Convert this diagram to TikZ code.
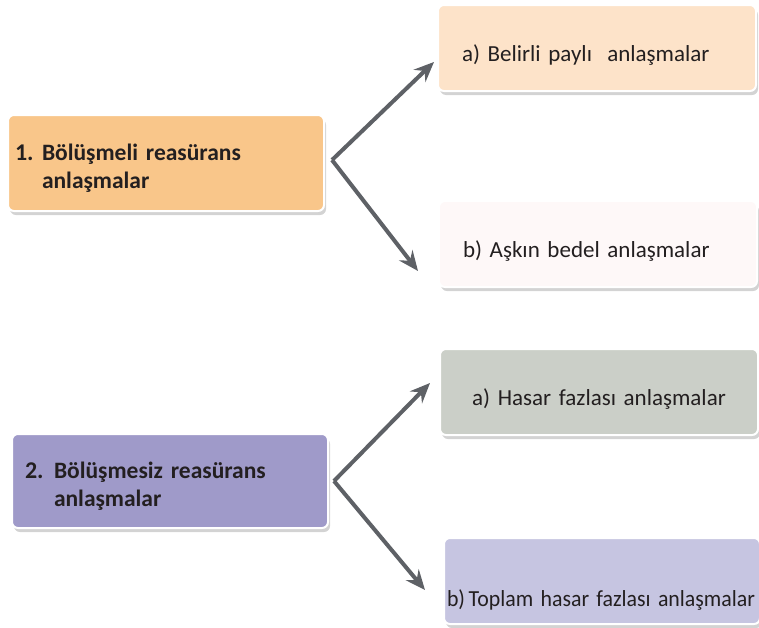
\documentclass[tikz,border=0pt]{standalone}
\usepackage{fontspec}
\setmainfont{Carlito}[WordSpace=0.7]
\usetikzlibrary{arrows.meta,shadows,positioning}

\definecolor{orangebox}{HTML}{F9C68A}
\definecolor{peachbox}{HTML}{FDE3C9}
\definecolor{pinkbox}{HTML}{FEF8F8}
\definecolor{purplebox}{HTML}{9F9AC9}
\definecolor{greybox}{HTML}{CBCFC8}
\definecolor{lilacbox}{HTML}{C6C5E1}
\definecolor{arrowgrey}{HTML}{5E6166}
\definecolor{textgrey}{HTML}{231F20}

\begin{document}
\begin{tikzpicture}[
                    x=1pt,
                    y=-1pt,
                    semithick,
                    box/.style={rounded corners=6pt, draw=white, line width=2pt,
                                drop shadow={shadow xshift=2pt, shadow yshift=-4pt, opacity=0.35},
                                text=textgrey, font=\fontsize{23}{28}\selectfont},
                    mainbox/.style={box, font=\bfseries\fontsize{23.5}{28.5}\selectfont,
                                    text width=302pt, inner xsep=7pt, align=left,
                                    text height=27pt, text depth=33pt},
                    subbox/.style={box, minimum height=86pt, text width=270pt,
                                   inner xsep=24pt, inner ysep=2pt, align=left,
                                   text height=28pt, text depth=2pt},
                    arr/.style={-{Stealth[length=20pt,width=17pt,inset=7pt]},
                                line width=4pt, arrowgrey}
                ]
                \useasboundingbox (0,0) rectangle (759,627);

                \node (1) [mainbox, fill=orangebox, minimum height=96pt] at (166,163)
                    {\makebox[27pt][l]{\fontsize{24}{28}\selectfont 1.}Bölüşmeli reasürans\\
                     \hspace*{27pt}anlaşmalar} ;
                \node (1a) [subbox, fill=peachbox] at (597,48) {a) Belirli paylı \ anlaşmalar} ;
                \node (1b) [subbox, fill=pinkbox] at (598,244) {b) Aşkın bedel anlaşmalar} ;

                \node (2) [mainbox, fill=purplebox, minimum height=94pt] at (170,481)
                    {\hspace*{6pt}\makebox[29pt][l]{\fontsize{24}{28}\selectfont 2.}Bölüşmesiz reasürans\\
                     \hspace*{35pt}anlaşmalar} ;
                \node (2a) [subbox, fill=greybox, align=center] at (599,392) {a) Hasar fazlası anlaşmalar} ;
                \node (2b) [subbox, fill=lilacbox, inner xsep=3pt, text width=310pt,
                            text height=52pt] at (602,581)
                    {\resizebox{308pt}{\height}{b)\,Toplam hasar fazlası anlaşmalar}} ;

                \coordinate (j1) at ([xshift=7pt,yshift=3pt]1.east) ;
                \coordinate (e1a) at ([xshift=-3pt,yshift=-14pt]1a.west) ;
                \coordinate (e1b) at ([xshift=-20pt,yshift=-27pt]1b.west) ;
                \coordinate (j2) at ([xshift=5pt]2.east) ;
                \coordinate (e2a) at ([xshift=-9pt,yshift=9pt]2a.west) ;
                \coordinate (e2b) at ([xshift=-18pt,yshift=-9pt]2b.west) ;

                \path[arr]
                (j1) edge (e1a)
                (j1) edge (e1b)
                (j2) edge (e2a)
                (j2) edge (e2b)
                ;
            \end{tikzpicture}
\end{document}
